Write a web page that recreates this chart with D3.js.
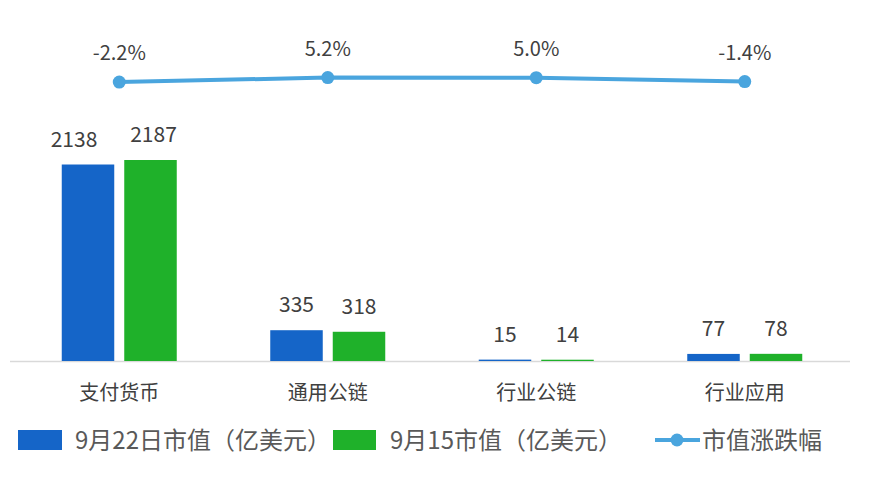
<!DOCTYPE html>
<html>
<head>
<meta charset="utf-8">
<script src="https://cdn.jsdelivr.net/npm/d3@7"></script>
<style>
  html, body { margin: 0; padding: 0; background: #fff; }
  svg { display: block; font-family: "Noto Sans CJK SC", "Noto Sans", sans-serif; }
</style>
</head>
<body>
<svg id="chart" width="869" height="483"></svg>
<script>
const categories = ['支付货币', '通用公链', '行业公链', '行业应用'];
const sep22 = [2138, 335, 15, 77];
const sep15 = [2187, 318, 14, 78];
const change = [-2.2, 5.2, 5.0, -1.4];
const seriesNames = ['9月22日市值（亿美元）', '9月15市值（亿美元）', '市值涨跌幅'];

const blue = '#1565c8';
const green = '#1fb12a';
const lineColor = '#4aa5de';
const textColor = '#404040';

const svg = d3.select('#chart');
const baseline = 361;

const x = d3.scaleBand()
  .domain(categories)
  .range([15, 849])
  .paddingInner(0)
  .paddingOuter(0);

const sub = d3.scaleBand()
  .domain(['a', 'b'])
  .range([-57.5, 57.5])
  .paddingInner(0.16)
  .paddingOuter(0);

const y = d3.scaleLinear()
  .domain([0, 2187])
  .range([baseline, 160]);

const yLine = d3.scaleLinear()
  .domain([-100, 100])
  .range([141.5, 19.9]);

// axis baseline
svg.append('line')
  .attr('x1', 10).attr('x2', 850)
  .attr('y1', baseline + 0.5).attr('y2', baseline + 0.5)
  .attr('stroke', '#d9d9d9')
  .attr('stroke-width', 1.5);

const rows = categories.map((c, i) => ({ cat: c, i: i, a: sep22[i], b: sep15[i] }));

const groups = svg.selectAll('.group')
  .data(rows)
  .enter()
  .append('g')
  .attr('class', 'group')
  .attr('transform', (d) => `translate(${x(d.cat) + x.bandwidth() / 2},0)`);

[['a', blue, -14], ['b', green, 3]].forEach(([key, color, nudge]) => {
  groups.append('rect')
    .attr('x', sub(key))
    .attr('width', sub.bandwidth())
    .attr('y', (d) => y(d[key]))
    .attr('height', (d) => baseline - y(d[key]))
    .attr('fill', color);

  // the tall first pair has its labels pushed apart a little
  groups.append('text')
    .attr('x', (d) => sub(key) + sub.bandwidth() / 2 + (d.i === 0 ? nudge : 0))
    .attr('y', (d) => y(d[key]) - 18)
    .attr('text-anchor', 'middle')
    .attr('font-size', 21)
    .attr('fill', textColor)
    .text((d) => d[key]);
});

// category labels
svg.selectAll('.cat')
  .data(categories)
  .enter()
  .append('text')
  .attr('class', 'cat')
  .attr('x', (d) => x(d) + x.bandwidth() / 2)
  .attr('y', 400)
  .attr('text-anchor', 'middle')
  .attr('font-size', 20)
  .attr('fill', textColor)
  .text((d) => d);

// change line
const pts = categories.map((c, i) => ({ cat: c, v: change[i] }));
const line = d3.line()
  .x((d) => x(d.cat) + x.bandwidth() / 2)
  .y((d) => yLine(d.v));

svg.append('path')
  .datum(pts)
  .attr('fill', 'none')
  .attr('stroke', lineColor)
  .attr('stroke-width', 4)
  .attr('stroke-linejoin', 'round')
  .attr('d', line);

svg.selectAll('.pt')
  .data(pts)
  .enter()
  .append('circle')
  .attr('class', 'pt')
  .attr('cx', (d) => x(d.cat) + x.bandwidth() / 2)
  .attr('cy', (d) => yLine(d.v))
  .attr('r', 6.5)
  .attr('fill', lineColor);

svg.selectAll('.pct')
  .data(pts)
  .enter()
  .append('text')
  .attr('class', 'pct')
  .attr('x', (d) => x(d.cat) + x.bandwidth() / 2)
  .attr('y', (d) => yLine(d.v) - 22)
  .attr('text-anchor', 'middle')
  .attr('font-size', 20)
  .attr('fill', textColor)
  .text((d) => d.v.toFixed(1) + '%');

// legend
const legend = svg.append('g').attr('font-size', 24).attr('fill', '#595959');
legend.append('rect').attr('x', 18).attr('y', 430).attr('width', 44).attr('height', 20).attr('fill', blue);
legend.append('text').attr('x', 75).attr('y', 449).text(seriesNames[0]);
legend.append('rect').attr('x', 333).attr('y', 430).attr('width', 43).attr('height', 20).attr('fill', green);
legend.append('text').attr('x', 390).attr('y', 449).text(seriesNames[1]);
legend.append('line').attr('x1', 655).attr('x2', 700).attr('y1', 440).attr('y2', 440)
  .attr('stroke', lineColor).attr('stroke-width', 4);
legend.append('circle').attr('cx', 677).attr('cy', 440).attr('r', 6.5).attr('fill', lineColor);
legend.append('text').attr('x', 702).attr('y', 449).text(seriesNames[2]);
</script>
</body>
</html>
